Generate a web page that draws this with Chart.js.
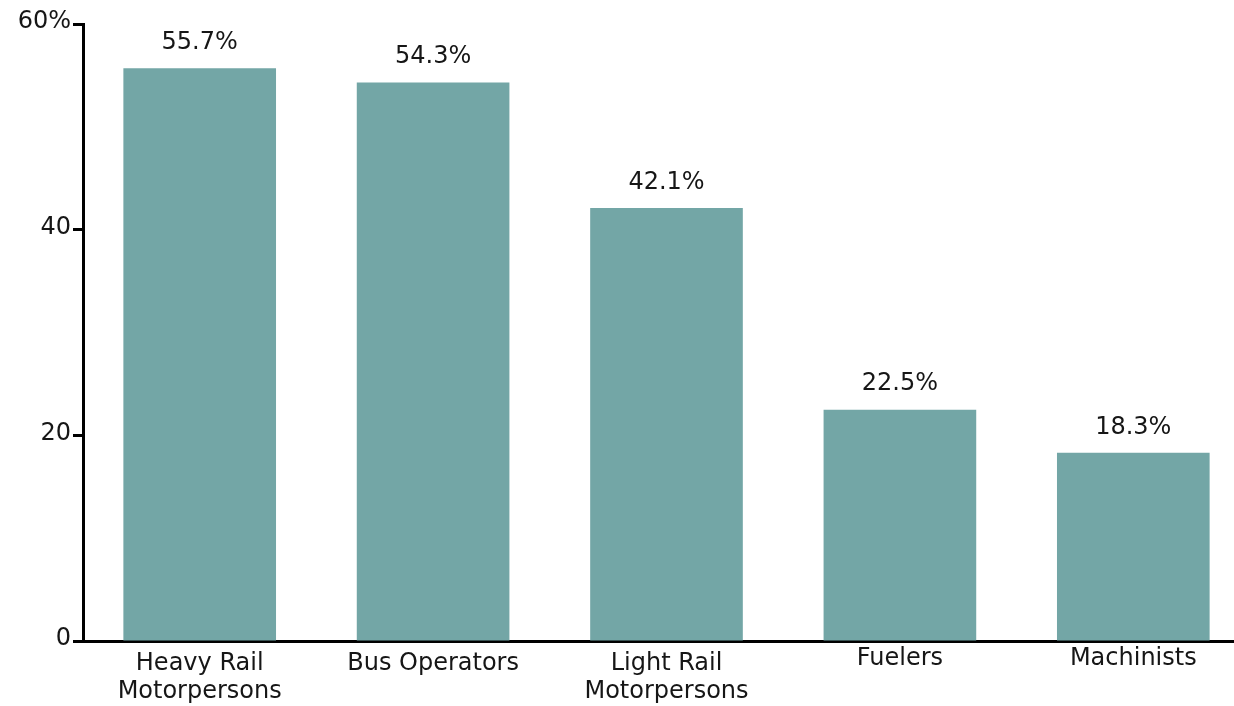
<!DOCTYPE html>
<html>
<head>
<meta charset="utf-8">
<script src="https://cdn.jsdelivr.net/npm/chart.js@4.4.1/dist/chart.umd.min.js"></script>
<style>
  html, body { margin: 0; padding: 0; background: #ffffff; overflow: hidden; }
  #wrap { width: 1250px; height: 706px; }
</style>
</head>
<body>
<div id="wrap"><canvas id="c" width="1250" height="706"></canvas></div>
<script>
const categories = [
  ['Heavy Rail', 'Motorpersons'],
  'Bus Operators',
  ['Light Rail', 'Motorpersons'],
  'Fuelers',
  'Machinists'
];
const values = [55.7, 54.3, 42.1, 22.5, 18.3];
const valueLabels = ['55.7%', '54.3%', '42.1%', '22.5%', '18.3%'];
const yTickValues = [0, 20, 40, 60];
const yTickLabels = ['0', '20', '40', '60%'];

const BAR_COLOR = 'rgb(115,166,166)';
const TEXT_COLOR = '#161616';
const AXIS_FONT = 'DejaVu Sans';
const LABEL_FONT = 'DejaVu Sans';
const FONT_SIZE = 24;

const valueLabelPlugin = {
  id: 'valueLabels',
  afterDatasetsDraw(chart) {
    const ctx = chart.ctx;
    const meta = chart.getDatasetMeta(0);
    ctx.save();
    ctx.font = FONT_SIZE + 'px "' + LABEL_FONT + '"';
    ctx.fillStyle = TEXT_COLOR;
    ctx.textAlign = 'center';
    ctx.textBaseline = 'middle';
    meta.data.forEach((bar, i) => {
      ctx.fillText(valueLabels[i], bar.x, bar.y - 25.5);
    });
    ctx.restore();
  }
};

new Chart(document.getElementById('c'), {
  type: 'bar',
  data: {
    labels: categories,
    datasets: [{
      data: values,
      backgroundColor: BAR_COLOR,
      borderWidth: 0,
      categoryPercentage: 1.0,
      barPercentage: 0.654
    }]
  },
  options: {
    responsive: false,
    animation: false,
    devicePixelRatio: 1,
    layout: { padding: { top: 24, left: 0, right: 0, bottom: 0 } },
    plugins: {
      legend: { display: false },
      tooltip: { enabled: false }
    },
    scales: {
      x: {
        grid: { display: false, drawTicks: false },
        border: { display: true, color: '#000000', width: 3 },
        ticks: {
          color: TEXT_COLOR,
          padding: 9,
          maxRotation: 0,
          autoSkip: false,
          font: (ctx) => {
            const lbl = categories[ctx.index];
            const single = !Array.isArray(lbl);
            const lh = (single && ctx.index >= 3) ? 18 : 28;
            return { family: AXIS_FONT, size: FONT_SIZE, lineHeight: lh + 'px' };
          }
        },
        afterFit: (scale) => { scale.height = 65; }
      },
      y: {
        min: 0,
        max: 60,
        afterBuildTicks: (scale) => { scale.ticks = yTickValues.map(v => ({ value: v })); },
        grid: {
          display: true,
          drawOnChartArea: false,
          drawTicks: true,
          tickLength: 10,
          tickWidth: 3,
          tickColor: '#000000'
        },
        border: { display: true, color: '#000000', width: 3 },
        ticks: {
          color: TEXT_COLOR,
          padding: 2,
          labelOffset: -2,
          font: { family: AXIS_FONT, size: FONT_SIZE },
          callback: (value) => {
            const idx = yTickValues.indexOf(value);
            return idx >= 0 ? yTickLabels[idx] : '';
          }
        },
        afterFit: (scale) => { scale.width = 83; }
      }
    }
  },
  plugins: [valueLabelPlugin]
});
</script>
</body>
</html>
